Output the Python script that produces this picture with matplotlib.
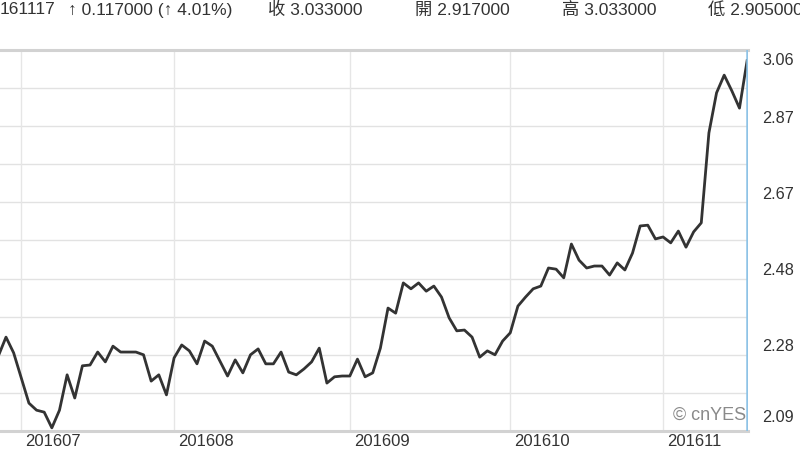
import matplotlib
matplotlib.use("Agg")
import matplotlib.pyplot as plt
import matplotlib.transforms as mtransforms
import pandas as pd

# 30-year yield, daily closes 2016-06-28 .. 2016-11-17
holidays = ["2016-07-04", "2016-09-05", "2016-10-10", "2016-11-11"]
yields = [
    2.281, 2.329, 2.289, 2.225, 2.161, 2.143, 2.138, 2.098, 2.143, 2.233,
    2.174, 2.256, 2.258, 2.291, 2.266, 2.306, 2.291, 2.291, 2.291, 2.284,
    2.217, 2.233, 2.182, 2.276, 2.309, 2.294, 2.261, 2.319, 2.306, 2.268,
    2.230, 2.271, 2.238, 2.284, 2.299, 2.261, 2.261, 2.291, 2.240, 2.233,
    2.248, 2.266, 2.301, 2.212, 2.228, 2.230, 2.230, 2.273, 2.228, 2.238,
    2.301, 2.403, 2.390, 2.467, 2.452, 2.467, 2.446, 2.459, 2.431, 2.378,
    2.345, 2.347, 2.329, 2.278, 2.294, 2.284, 2.319, 2.340, 2.408, 2.431,
    2.452, 2.459, 2.505, 2.502, 2.480, 2.566, 2.525, 2.505, 2.510, 2.510,
    2.487, 2.518, 2.500, 2.543, 2.612, 2.614, 2.579, 2.584, 2.569, 2.599,
    2.558, 2.597, 2.620, 2.849, 2.951, 2.996, 2.956, 2.912, 3.033,
]
ytick_labels = ["2.09", "2.28", "2.48", "2.67", "2.87", "3.06"]
header = ["161117", "↑ 0.117000 (↑ 4.01%)", "收 3.033000",
          "開 2.917000", "高 3.033000", "低 2.905000"]

dates = pd.bdate_range("2016-06-28", "2016-11-17")
dates = dates[~dates.isin(pd.to_datetime(holidays))]
s = pd.Series(yields, index=dates)
x = list(range(len(s)))

# first trading day of each month -> grid + label
months = pd.Series(range(len(dates)), index=dates)
month_first = months.groupby(dates.to_period("M")).first()
month_first = month_first[month_first.index >= pd.Period("2016-07")]

plt.rcParams["font.family"] = ["Liberation Sans", "Noto Sans CJK TC", "DejaVu Sans"]

fig = plt.figure(figsize=(8, 4.5), dpi=100)
ax = fig.add_axes([0, 19 / 450, 747.5 / 800, 381 / 450])

ymin, ymax = 2.09, 3.06
ax.set_ylim(ymin, ymax)
ax.set_xlim(0.215, len(s) - 1 + 0.05)

# grid
step = (ymax - ymin) / 10
for k in range(1, 10):
    ax.axhline(ymin + step * k, color="#e2e2e2", lw=1, zorder=0)
for pos in month_first.values:
    ax.axvline(pos, color="#e6e6e6", lw=1, zorder=0)

ax.plot(x, s.values, color="#333333", lw=2.0, zorder=3, solid_joinstyle="round")
ax.axvline(x[-1], color="#8ec3e6", lw=1.8, zorder=4)

for side in ["left", "right"]:
    ax.spines[side].set_visible(False)
for side in ["top", "bottom"]:
    ax.spines[side].set_color("#d2d2d2")
    ax.spines[side].set_linewidth(2.2)
ax.set_xticks([])
ax.set_yticks([])

# y labels to the right of the plot
n = len(ytick_labels)
for k, lab in enumerate(ytick_labels):
    val = ymin + (ymax - ymin) * k / (n - 1)
    if k == 0:
        dy = 13
    elif k == n - 1:
        dy = -11
    else:
        dy = 8
    tr = mtransforms.offset_copy(ax.get_yaxis_transform(), fig=fig, x=0, y=dy, units="dots")
    ax.text(762 / 747.5, val, lab, transform=tr, ha="left", va="center",
            fontsize=11.7, color="#333333", clip_on=False)

# month labels
for per, pos in month_first.items():
    tr = mtransforms.offset_copy(ax.get_xaxis_transform(), fig=fig, x=4, y=-11, units="dots")
    ax.text(pos, 0, per.strftime("%Y%m"), transform=tr, ha="left", va="center",
            fontsize=12, color="#333333", clip_on=False)

ax.text(746 / 747.5, 16 / 381, "© cnYES", transform=ax.transAxes, ha="right",
        va="center", fontsize=13, color="#8a8a8a")

# header line
head_x = [0, 68, 268, 415, 562, 708]
for i, t in enumerate(header):
    fig.text(head_x[i] / 800, 1 - 10 / 450, t, ha="left",
             va="center", fontsize=12.5, color="#333333")

fig.savefig("out.png", dpi=100)
